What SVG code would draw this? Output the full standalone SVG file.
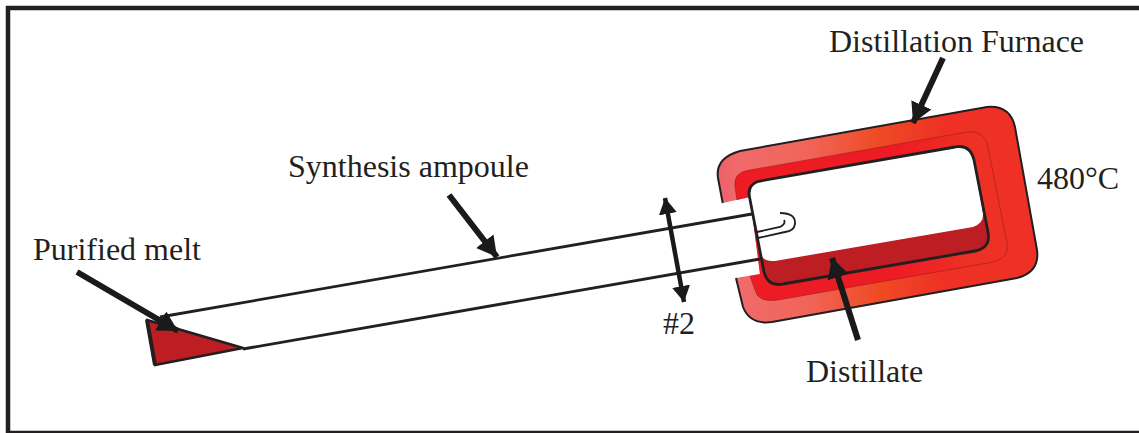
<svg xmlns="http://www.w3.org/2000/svg" width="1139" height="433" viewBox="0 0 1139 433">
<style>
text{font-family:"Liberation Serif","Times New Roman",serif;font-size:32px;fill:#231f20}
.ln{fill:none;stroke:#231f20;stroke-width:2.8}
.ar{fill:none;stroke:#1a1a1a;stroke-width:6;marker-end:url(#ah)}
</style>
<defs>
<linearGradient id="fg" gradientUnits="userSpaceOnUse" x1="716" y1="0" x2="1040" y2="0">
<stop offset="0" stop-color="#e9606b"/><stop offset=".07" stop-color="#f16a6a"/><stop offset=".28" stop-color="#f0655a"/><stop offset=".5" stop-color="#ef4b24"/><stop offset=".7" stop-color="#ee3124"/><stop offset="1" stop-color="#ee3124"/>
</linearGradient>
<linearGradient id="bg" gradientUnits="userSpaceOnUse" x1="735" y1="0" x2="1010" y2="0">
<stop offset="0" stop-color="#ed1c24"/><stop offset=".6" stop-color="#ed1c24"/><stop offset=".85" stop-color="#ee3124"/>
</linearGradient>
<marker id="ah" markerUnits="userSpaceOnUse" markerWidth="24" markerHeight="24" refX="20" refY="11" orient="auto-start-reverse">
<path d="M0,0L20,11L0,22Z" fill="#1a1a1a"/>
</marker>
<marker id="ad" markerUnits="userSpaceOnUse" markerWidth="20" markerHeight="20" refX="16" refY="9" orient="auto-start-reverse">
<path d="M0,0L16,9L0,18Z" fill="#1a1a1a"/>
</marker>
</defs>
<rect id="frame" x="8" y="8" width="1140" height="425" fill="#fff" stroke="#231f20" stroke-width="4.5"/>
<g id="furnace">
<path d="M722.7,203L718,178Q715,158 740,151L987,107Q1010,105 1015,127L1037,250Q1040,272 1017,278L772,322Q750,325 743,307L736,278L760,274L750,197Z" fill="url(#fg)"/>
<path d="M722.7,203L718,178Q715,158 740,151L987,107Q1010,105 1015,127L1037,250Q1040,272 1017,278L772,322Q750,325 743,307L736,278" class="ln" style="stroke-width:2"/>
<path d="M737,200L735,187Q733,172 750,170L967,132Q985,130 988,147L1007,243Q1010,258 993,262L778,300Q758,303 755,290L750,276L760,274L750,197Z" fill="url(#bg)"/>
<path d="M737,200L735,187Q733,172 750,170L967,132Q985,130 988,147L1007,243Q1010,258 993,262L778,300Q758,303 755,290L750,276" fill="none" stroke="#9e1b20" stroke-width="1" stroke-opacity=".6"/>
</g>
<g id="distillate">
<path d="M749.5,197Q747,184 760,181L955,147Q970,144 974,160L988,232Q991,248 975,251L783,284Q768,287 764,272Z" fill="#bc1e24"/>
<path d="M749.5,197Q747,184 760,181L955,147Q970,144 974,160L983,213Q984,223 973,227L775,261Q763,262 760,253Z" fill="#fff"/>
<path d="M749.5,197Q747,184 760,181L955,147Q970,144 974,160L988,232Q991,248 975,251L783,284Q768,287 764,272Z" class="ln"/>
</g>
<g id="ampoule">
<path d="M160,317L752,214" class="ln"/>
<path d="M243,349L760,259" class="ln"/>
<path d="M757,232L780,227Q786,224 784,220M780,213Q796,213 795,224Q794,231 785,232L758,238" class="ln" style="stroke-width:1.8"/>
</g>
<g id="melt">
<path d="M147,320L155,365L243,348Z" fill="#bc1e24" stroke="#231f20" stroke-width="2.8" stroke-linejoin="round"/>
<path d="M147,320L155,365" class="ln" style="stroke-width:4"/>
</g>
<g id="connectors">
<path d="M77,272L178,331" class="ar"/>
<path d="M449,195L497,257" class="ar"/>
<path d="M943,58L913,123" class="ar"/>
<path d="M858,340L832,258" class="ar"/>
<path d="M665,198L684,302" class="ar" style="marker-start:url(#ad);marker-end:url(#ad);stroke-width:4.5"/>
</g>
<g id="labels">
<text x="829" y="52">Distillation Furnace</text>
<text x="1037" y="189">480°C</text>
<text x="288" y="177">Synthesis ampoule</text>
<text x="33" y="260">Purified melt</text>
<text x="663" y="334">#2</text>
<text x="806" y="382">Distillate</text>
</g>
</svg>
